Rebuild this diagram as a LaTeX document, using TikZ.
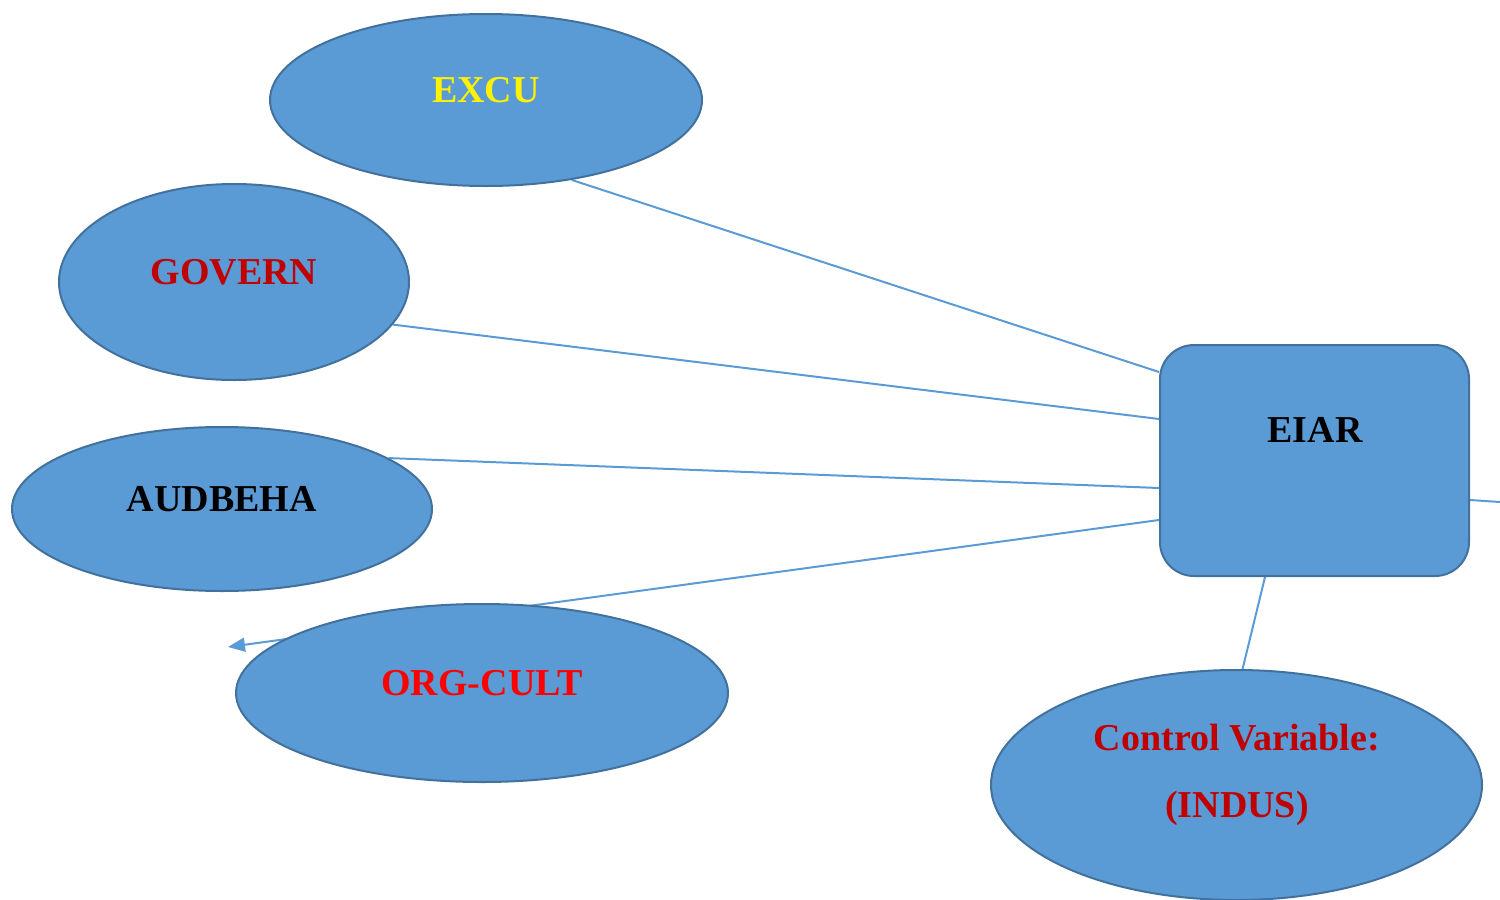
\documentclass[tikz,border=0pt]{standalone}
\usepackage{fontspec}
\setmainfont{Liberation Serif}
\usetikzlibrary{shapes.geometric,arrows.meta,calc,backgrounds}
\definecolor{nodefill}{HTML}{5B9BD5}
\definecolor{nodeedge}{HTML}{41719C}
\definecolor{linkblue}{HTML}{5B9BD5}
\definecolor{darkred}{HTML}{C00000}
\definecolor{brightred}{HTML}{FF0000}
\begin{document}
\begin{tikzpicture}[x=0.5pt,y=-0.5pt,
  oval/.style={ellipse,draw=nodeedge,fill=nodefill,line width=1pt,inner sep=0pt},
  box/.style={rectangle,draw=nodeedge,fill=nodefill,line width=1pt,inner sep=0pt,rounded corners=17pt},
  lbl/.style={font=\fontsize{19}{23}\selectfont\bfseries,inner sep=0pt},
  link/.style={draw=linkblue,line width=1pt}]
\useasboundingbox (0,0) rectangle (1500,900);
% shapes
\node[oval,minimum width=216pt,minimum height=86pt] (excu) at (486,100) {};
\node[oval,minimum width=175pt,minimum height=98pt] (govern) at (234,282) {};
\node[oval,minimum width=210pt,minimum height=82pt] (aud) at (222,509) {};
\node[oval,minimum width=246pt,minimum height=89pt] (org) at (482,693) {};
\node[oval,minimum width=245.5pt,minimum height=115pt] (ctrl) at (1236.5,785) {};
\node[box,minimum width=154.5pt,minimum height=115.5pt] (eiar) at (1314.5,460.5) {};
% labels
\node[lbl,text=yellow] (excut) at (486,90) {EXCU};
\node[lbl,text=darkred] (governt) at (234,272) {GOVERN};
\node[lbl,text=black] (audt) at (222,499) {AUDBEHA};
\node[lbl,text=brightred] (orgt) at (482,683) {ORG-CULT};
\node[lbl,text=black] (eiart) at (1315,430) {EIAR};
\node[lbl,text=darkred] (ctrla) at (1237,738) {Control Variable:};
\node[lbl,text=darkred] (ctrlb) at (1237,808) {(INDUS)};
% connectors
\coordinate (orgtip) at (228,647);
\coordinate (rightend) at (1500,502);
\begin{scope}[on background layer]
\draw[link] (excu.-43.6) -- ($(eiar.west)+(0,-88.5)$);
\draw[link] (govern.-15.1) -- ($(eiar.west)+(0,-41.5)$);
\draw[link] (aud.17.1) -- ($(eiar.west)+(0,27.5)$);
\draw[link,-{Triangle[length=8.5pt,width=7pt]}] ($(eiar.west)+(0,59.5)$) -- (orgtip);
\draw[link] (ctrl.87.5) -- ($(eiar.south)+(-49.5,0)$);
\draw[link] ($(eiar.east)+(0,39.5)$) -- (rightend);
\end{scope}
\end{tikzpicture}
\end{document}
